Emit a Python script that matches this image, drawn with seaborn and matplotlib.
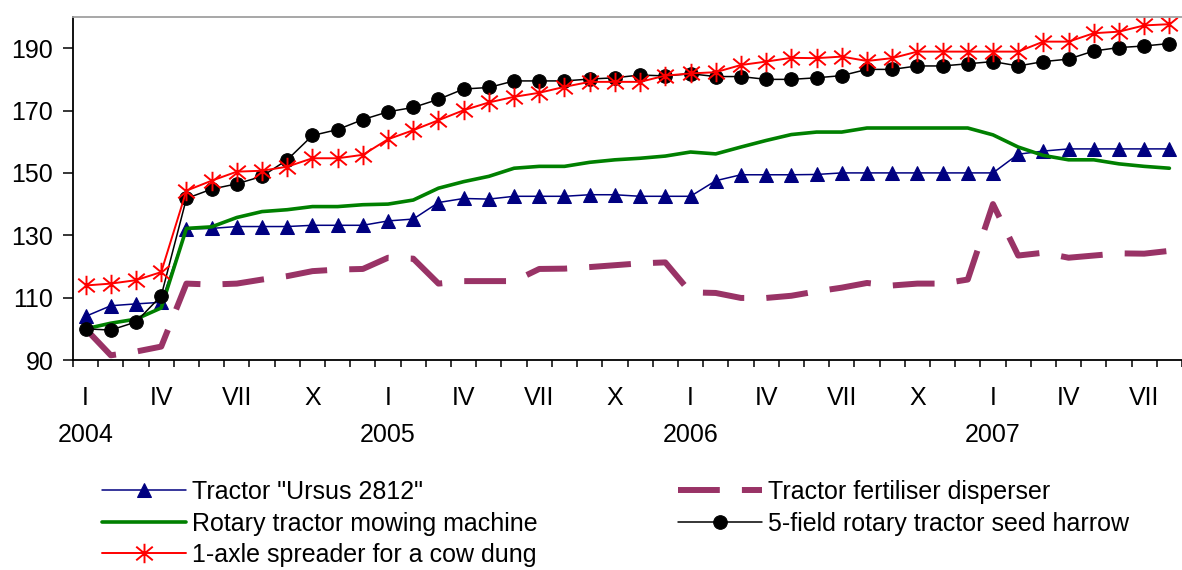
import numpy as np
import pandas as pd
import matplotlib.pyplot as plt
from matplotlib.path import Path
import seaborn as sns

sns.set_style("ticks")
plt.rcParams["font.family"] = ["Liberation Sans", "DejaVu Sans"]
plt.rcParams["font.size"] = 18
for key in ("text.color", "axes.labelcolor", "xtick.color", "ytick.color"):
    plt.rcParams[key] = "black"

# months shown: Jan 2004 .. Aug 2007
roman = ["I", "II", "III", "IV", "V", "VI", "VII", "VIII", "IX", "X", "XI", "XII"]
years = [2004, 2005, 2006, 2007]
months_2007 = 8
periods = [(y, m) for y in years for m in roman][: 36 + months_2007]

ursus = [104.0, 107.4, 108.0, 108.5, 132.0, 132.2, 132.8, 132.8, 132.8, 133.2, 133.2, 133.2,
         134.6, 135.2, 140.5, 141.8, 141.6, 142.5, 142.5, 142.5, 143.0, 143.0, 142.5, 142.5,
         142.5, 147.5, 149.4, 149.4, 149.4, 149.5, 150.0, 150.0, 150.0, 150.0, 150.0, 150.0,
         150.0, 156.0, 157.0, 157.7, 157.7, 157.7, 157.7, 157.7]
fertiliser = [100.0, 91.5, 92.7, 94.3, 114.5, 114.2, 114.5, 115.8, 116.9, 118.5, 119.0, 119.2,
              122.8, 122.5, 114.5, 115.3, 115.3, 115.3, 119.2, 119.3, 119.8, 120.4, 121.0, 121.3,
              111.7, 111.5, 109.9, 109.9, 110.6, 112.0, 113.2, 114.7, 113.9, 114.5, 114.5, 115.8,
              140.0, 123.5, 124.4, 122.8, 123.5, 124.2, 124.1, 125.0]
mowing = [100.0, 101.8, 103.1, 106.7, 132.2, 132.7, 135.7, 137.6, 138.2, 139.2, 139.2, 139.8,
          140.0, 141.3, 145.1, 147.2, 148.9, 151.5, 152.1, 152.1, 153.4, 154.2, 154.7, 155.4,
          156.7, 156.1, 158.3, 160.4, 162.3, 163.1, 163.1, 164.4, 164.4, 164.4, 164.4, 164.4,
          162.2, 158.3, 155.6, 154.2, 154.2, 152.9, 152.1, 151.5]
harrow = [100.0, 99.6, 102.2, 110.6, 141.8, 144.8, 146.5, 148.9, 154.2, 162.0, 163.9, 167.1,
          169.6, 171.0, 173.6, 176.9, 177.4, 179.5, 179.5, 179.5, 180.1, 180.5, 181.4, 181.1,
          181.8, 180.9, 180.9, 180.0, 180.0, 180.5, 181.2, 183.2, 183.2, 184.3, 184.3, 185.0,
          185.7, 184.3, 185.7, 186.5, 189.1, 190.2, 190.7, 191.5]
spreader = [113.9, 114.5, 115.6, 118.2, 144.3, 147.5, 150.4, 150.7, 152.0, 154.7, 154.7, 155.8,
            160.8, 163.7, 166.9, 170.1, 172.6, 174.4, 175.7, 177.6, 179.2, 179.2, 179.2, 181.2,
            181.9, 182.3, 184.6, 185.7, 186.9, 186.8, 187.3, 185.9, 186.8, 188.9, 188.9, 188.9,
            188.9, 188.9, 192.1, 192.1, 194.8, 195.3, 197.3, 197.7]

names = ['Tractor "Ursus 2812"', "Tractor fertiliser disperser", "Rotary tractor mowing machine",
         "5-field rotary tractor seed harrow", "1-axle spreader for a cow dung"]

x = np.arange(len(periods))
df = pd.DataFrame({"x": x, names[0]: ursus, names[1]: fertiliser, names[2]: mowing,
                   names[3]: harrow, names[4]: spreader})

# Excel-like star: vertical bar + X
star = Path([(0, 1), (0, -1), (-0.85, 0.7), (0.85, -0.7), (-0.85, -0.7), (0.85, 0.7)],
            [Path.MOVETO, Path.LINETO, Path.MOVETO, Path.LINETO, Path.MOVETO, Path.LINETO])

fig = plt.figure(figsize=(11.82, 5.70), dpi=100)
ax = fig.add_axes([73 / 1182, 1 - 360 / 570, 1 - 73 / 1182, (360 - 17) / 570])

sns.lineplot(data=df, x="x", y=names[0], ax=ax, color="#000080", linewidth=1.1, marker="^",
             markersize=9.5, markerfacecolor="#000080", markeredgecolor="#000080", label=names[0])
sns.lineplot(data=df, x="x", y=names[1], ax=ax, color="#993366", linewidth=4.3, label=names[1])
ax.lines[-1].set_dashes((7, 3.7))
ax.lines[-1].set_dash_capstyle("butt")
sns.lineplot(data=df, x="x", y=names[2], ax=ax, color="#008000", linewidth=2.6, label=names[2])
sns.lineplot(data=df, x="x", y=names[3], ax=ax, color="black", linewidth=1.1, marker="o",
             markersize=9.8, markerfacecolor="black", markeredgecolor="black", label=names[3])
sns.lineplot(data=df, x="x", y=names[4], ax=ax, color="red", linewidth=1.4, marker=star,
             markersize=14, markerfacecolor="none", markeredgecolor="red", markeredgewidth=1.4,
             label=names[4])

handles, labels = ax.get_legend_handles_labels()
ax.get_legend().remove()
order = [0, 2, 4, 1, 3]
fig.legend([handles[i] for i in order], [labels[i] for i in order], ncol=2, loc="upper left",
           bbox_to_anchor=(102 / 1182, 1 - 480 / 570), frameon=False, borderpad=0,
           borderaxespad=0, handlelength=3.36, handletextpad=0.24, columnspacing=5.6,
           labelspacing=0.3, fontsize=18)

ax.set_xlim(-0.5, 43.13)
ax.set_ylim(90, 200)
ax.set_yticks([90, 110, 130, 150, 170, 190])
ax.set_xlabel("")
ax.set_ylabel("")

centers = [i for i, (y, m) in enumerate(periods) if m in ("I", "IV", "VII", "X")]
xlabels = [f"{periods[i][1]}\n{periods[i][0]}" if periods[i][1] == "I" else periods[i][1]
           for i in centers]
ax.set_xticks(centers, xlabels)
ax.set_xticks(np.arange(len(periods) + 1) - 0.5, minor=True)
for t in ax.get_xticklabels():
    t.set_linespacing(1.64)
ax.tick_params(axis="x", which="major", length=0, pad=19)
ax.tick_params(axis="x", which="minor", length=5, width=1.1, direction="out")
ax.tick_params(axis="y", length=7.2, width=1.1, direction="out", pad=7)

ax.spines["right"].set_visible(False)
ax.spines["top"].set_color("#a0a0a0")
ax.spines["top"].set_linewidth(1.3)
for s in ("left", "bottom"):
    ax.spines[s].set_color("black")
    ax.spines[s].set_linewidth(1.3)

fig.savefig("out.png", dpi=100)
